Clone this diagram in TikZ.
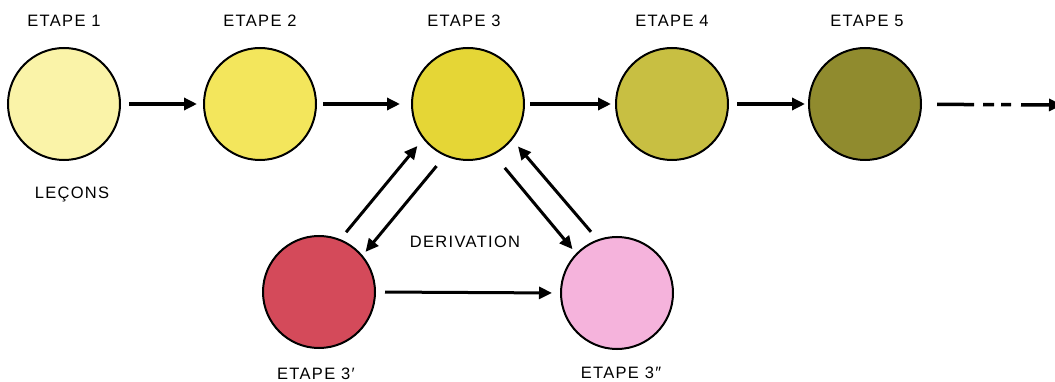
\documentclass[tikz,border=0pt]{standalone}
\usepackage{fontspec}
\setmainfont{Liberation Sans}[LetterSpace=8]
\usetikzlibrary{arrows.meta}
\definecolor{cA}{HTML}{FAF3A8}
\definecolor{cB}{HTML}{F3E65C}
\definecolor{cC}{HTML}{E5D636}
\definecolor{cD}{HTML}{C8BF42}
\definecolor{cE}{HTML}{908B2E}
\definecolor{cR}{HTML}{D44A5A}
\definecolor{cP}{HTML}{F5B3DC}
\begin{document}
\begin{tikzpicture}[x=1pt,y=-1pt,
  stage/.style={circle,draw=black,line width=2pt,minimum size=112pt,inner sep=0pt},
  lbl/.style={font=\fontsize{16.5}{19}\selectfont,inner sep=0pt},
  arr/.style={line width=3.5pt,-{Triangle[length=13pt,width=12pt]}},
  darr/.style={line width=3pt,-{Triangle[length=13pt,width=12pt]}},
]
\useasboundingbox (0,0) rectangle (1055,382);
\node[stage,fill=cA] (n1) at (64,104) {};
\node[stage,fill=cB] (n2) at (260,104) {};
\node[stage,fill=cC] (n3) at (468,104) {};
\node[stage,fill=cD] (n4) at (672,104) {};
\node[stage,fill=cE] (n5) at (865,104) {};
\node[stage,fill=cR] (n3p) at (319,292) {};
\node[stage,fill=cP] (n3pp) at (617,293) {};
\coordinate (end) at (1062,105);

\node[lbl] (t1) at (64,21) {ETAPE 1};
\node[lbl] (t2) at (260,21) {ETAPE 2};
\node[lbl] (t3) at (464,21) {ETAPE 3};
\node[lbl] (t4) at (672,21) {ETAPE 4};
\node[lbl] (t5) at (867,21) {ETAPE 5};
\node[lbl] (lec) at (72,194) {LEÇONS};
\node[lbl] (der) at (465,242) {DERIVATION};
\node[lbl] (t3p) at (316,374) {ETAPE 3′};
\node[lbl] (t3pp) at (621,373) {ETAPE 3″};

\draw[arr,shorten <=8pt,shorten >=6pt] (n1) -- (n2);
\draw[arr,shorten <=6pt,shorten >=11pt] (n2) -- (n3);
\draw[arr,shorten <=5pt,shorten >=4pt] (n3) -- (n4);
\draw[arr,shorten <=8pt,shorten >=3pt] (n4) -- (n5);
\draw[arr,shorten <=15pt,dash pattern=on 37pt off 9pt on 11pt off 7pt on 10pt off 10pt on 80pt] (n5) -- (end);

\draw[darr,shorten <=9pt,shorten >=9pt] (n3p.68) -- (n3.218);
\draw[darr,shorten <=13pt,shorten >=4.5pt] (n3.246) -- (n3p.40);
\draw[darr,shorten <=17pt,shorten >=5.5pt] (n3.297) -- (n3pp.136);
\draw[darr,shorten <=10pt,shorten >=8.7pt] (n3pp.110) -- (n3.321);
\draw[darr,shorten <=9pt,shorten >=8pt] (n3p.east) -- (n3pp.west);
\end{tikzpicture}
\end{document}
